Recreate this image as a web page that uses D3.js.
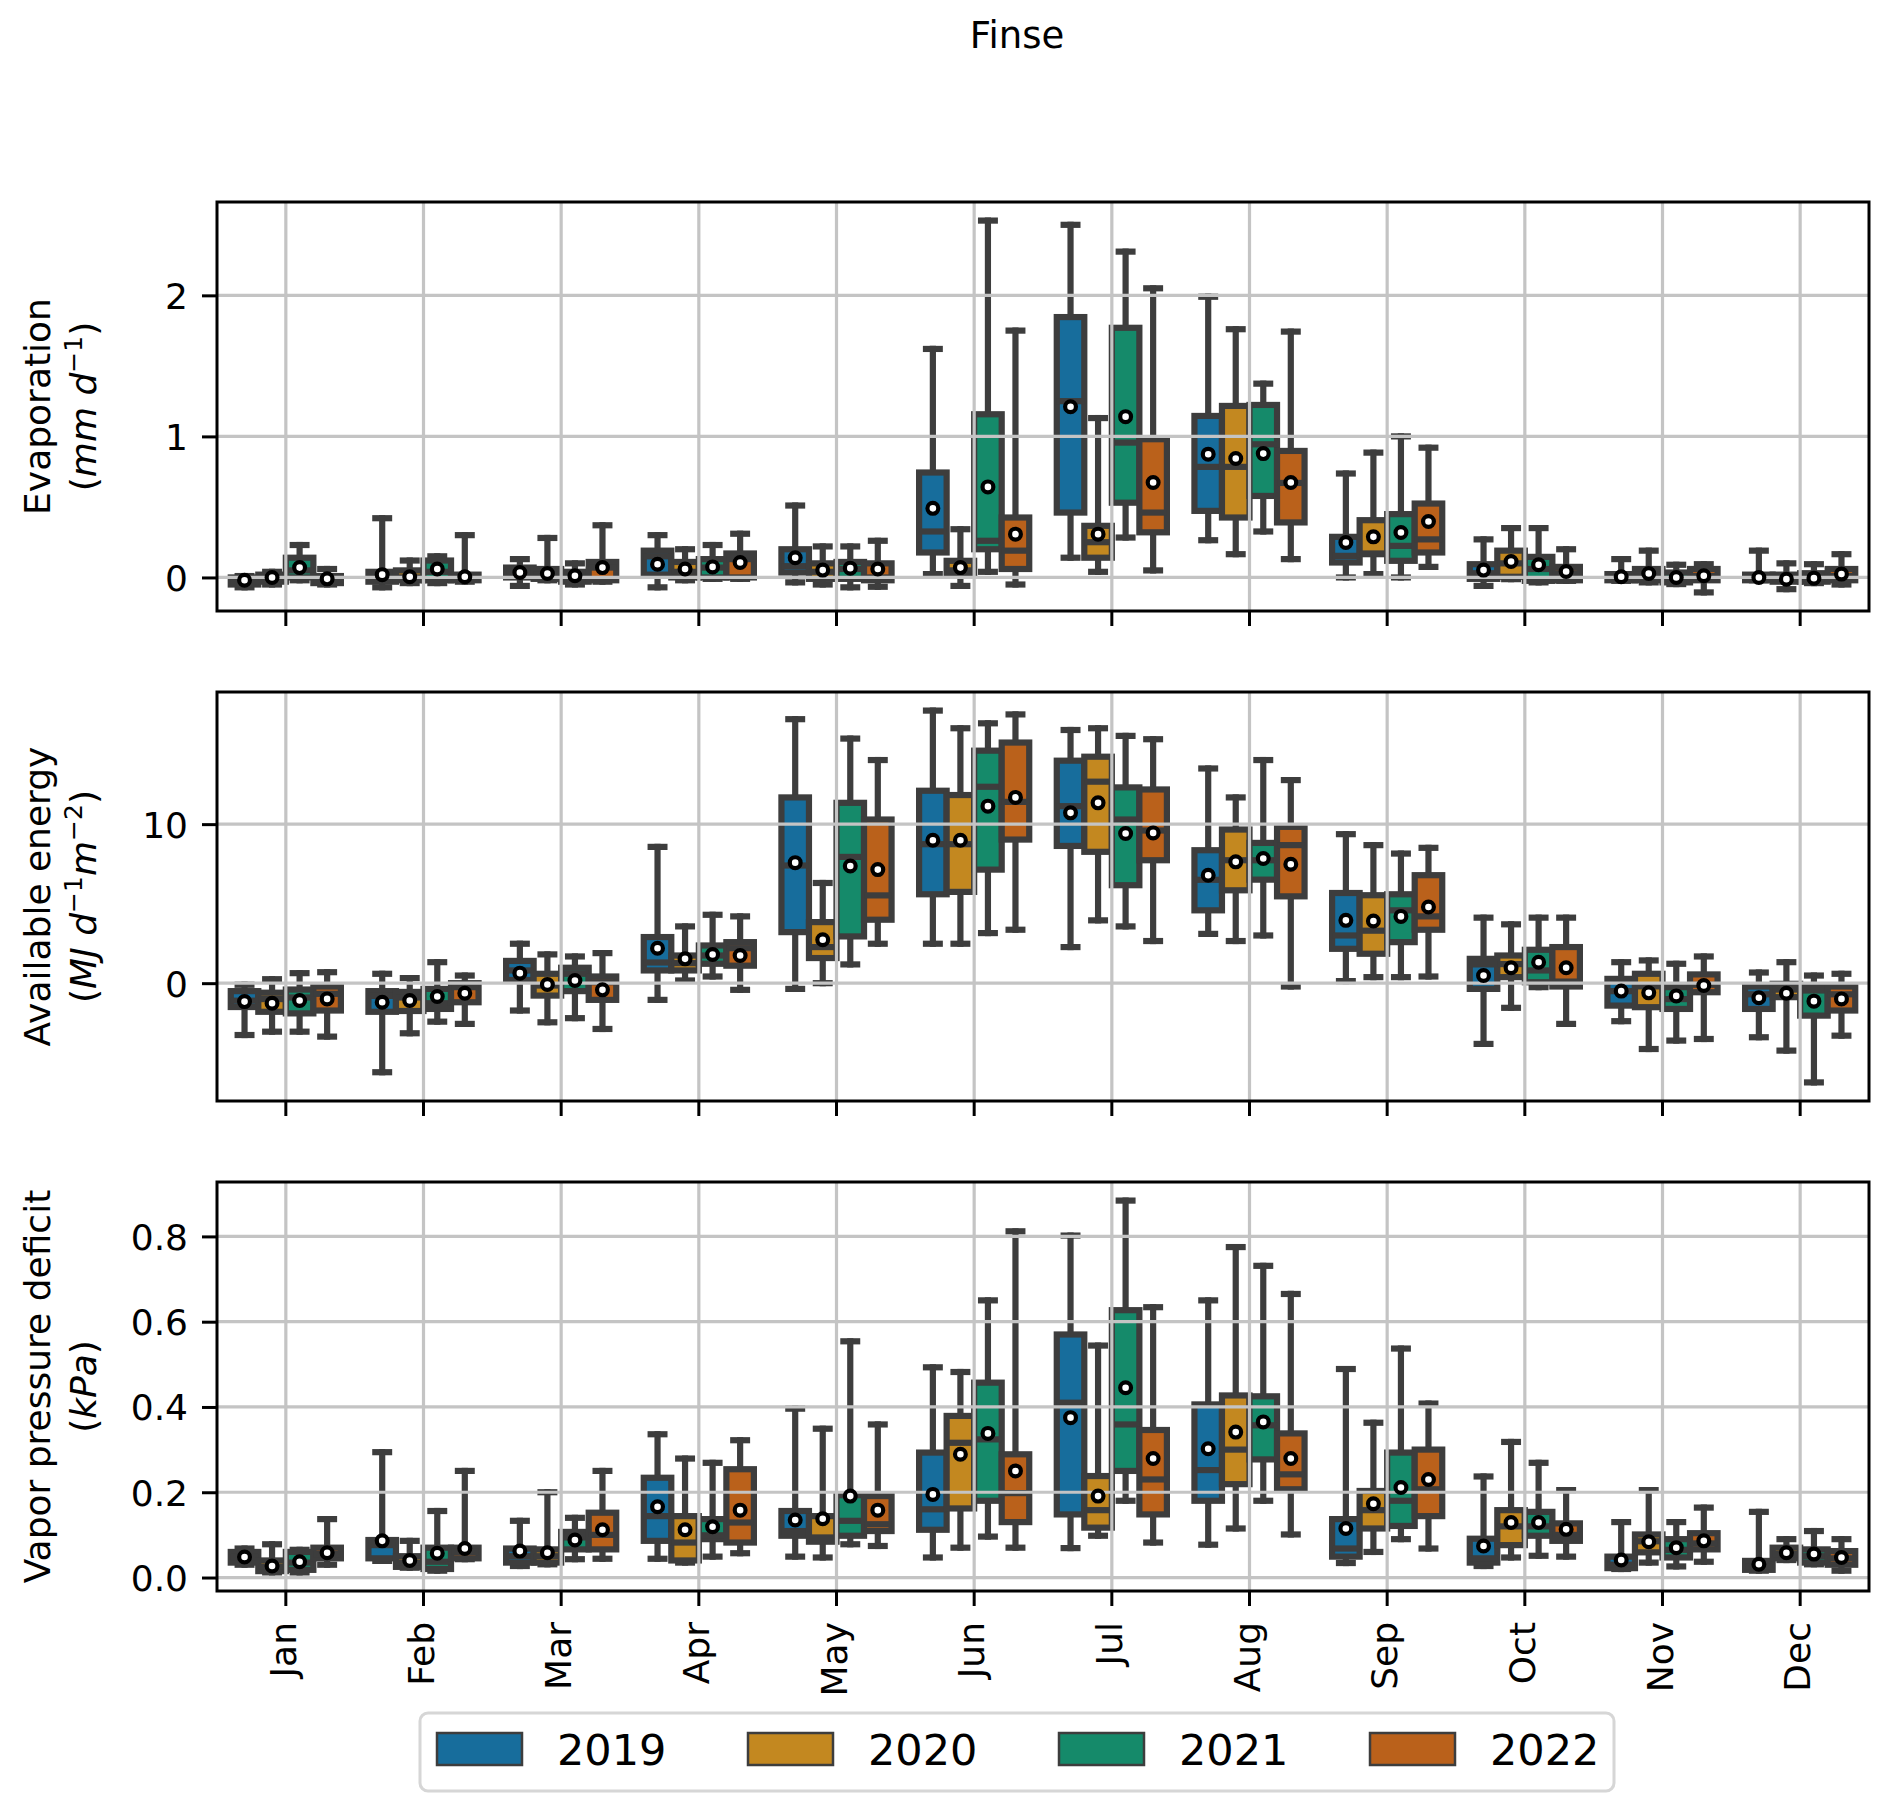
<!DOCTYPE html>
<html>
<head>
<meta charset="utf-8">
<script src="https://cdn.jsdelivr.net/npm/d3@7"></script>
<style>
  body { margin: 0; background: #fff; }
  text { font-family: "DejaVu Sans", sans-serif; }
</style>
</head>
<body>
<script>

var months = ["Jan", "Feb", "Mar", "Apr", "May", "Jun", "Jul", "Aug", "Sep", "Oct", "Nov", "Dec"];
var years = ["2019", "2020", "2021", "2022"];
var colors = ["#176d9c", "#c38820", "#158a6a", "#ba611b"];

// each entry: [lower whisker, q1, median, q3, upper whisker, mean]
var evap2019 = [[-0.07,-0.05,-0.03,0.0,0.01,-0.02],[-0.07,-0.03,0.0,0.04,0.42,0.02],[-0.06,0.0,0.03,0.07,0.13,0.035],[-0.07,0.02,0.15,0.19,0.3,0.094],[-0.035,0.035,0.08,0.2,0.51,0.14],[0.024,0.177,0.326,0.744,1.62,0.49],[0.14,0.46,1.25,1.846,2.5,1.21],[0.264,0.472,0.784,1.145,1.99,0.874],[0.0,0.106,0.153,0.288,0.737,0.248],[-0.06,-0.01,0.03,0.094,0.27,0.052],[-0.024,-0.02,0.0,0.024,0.13,0.005],[-0.02,-0.02,0.0,0.02,0.19,0.0]];
var evap2020 = [[-0.05,-0.03,0.0,0.02,0.04,0.0],[-0.04,-0.02,0.0,0.05,0.12,0.005],[-0.02,-0.01,0.02,0.06,0.28,0.028],[-0.02,0.0,0.04,0.11,0.2,0.06],[-0.05,-0.01,0.04,0.1,0.22,0.052],[-0.06,0.024,0.05,0.118,0.342,0.07],[0.04,0.14,0.25,0.366,1.13,0.307],[0.165,0.425,0.784,1.216,1.76,0.843],[0.024,0.165,0.17,0.406,0.885,0.288],[-0.012,0.005,0.1,0.19,0.35,0.113],[-0.035,-0.02,0.02,0.06,0.19,0.028],[-0.083,-0.03,-0.01,0.02,0.1,-0.012]];
var evap2021 = [[-0.02,0.0,0.05,0.14,0.23,0.07],[-0.04,-0.02,0.04,0.12,0.15,0.06],[-0.05,-0.03,0.0,0.04,0.1,0.012],[-0.01,0.0,0.07,0.13,0.23,0.075],[-0.07,-0.01,0.06,0.11,0.22,0.066],[0.04,0.2,0.26,1.157,2.53,0.642],[0.283,0.53,0.956,1.77,2.31,1.14],[0.326,0.578,0.944,1.223,1.374,0.878],[0.0,0.118,0.224,0.449,1.0,0.319],[-0.035,-0.024,0.06,0.146,0.35,0.09],[-0.047,-0.035,-0.01,0.035,0.09,0.0],[-0.04,-0.03,-0.01,0.03,0.094,-0.005]];
var evap2022 = [[-0.05,-0.04,-0.02,0.01,0.06,-0.01],[-0.03,-0.02,0.0,0.02,0.3,0.005],[-0.03,-0.02,0.07,0.11,0.37,0.07],[-0.01,0.0,0.13,0.17,0.31,0.106],[-0.066,-0.02,0.0,0.1,0.26,0.06],[-0.05,0.06,0.19,0.425,1.75,0.307],[0.05,0.32,0.46,0.98,2.05,0.673],[0.13,0.39,0.67,0.897,1.743,0.673],[0.075,0.177,0.27,0.524,0.92,0.397],[-0.024,-0.02,0.03,0.075,0.2,0.042],[-0.106,-0.02,0.01,0.06,0.094,0.012],[-0.05,-0.02,0.01,0.06,0.165,0.024]];

var energy2019 = [[-3.26,-1.5,-1.1,-0.5,-0.1,-1.16],[-5.6,-1.8,-0.8,-0.5,0.59,-1.2],[-1.72,0.2,0.8,1.4,2.48,0.63],[-1.05,0.8,1.3,2.9,8.57,2.2],[-0.36,3.21,7.4,11.68,16.6,7.58],[2.48,5.59,8.74,12.1,17.14,8.99],[2.27,8.63,11.13,13.99,15.92,10.71],[3.1,4.58,6.5,8.36,13.5,6.79],[0.13,2.16,3.0,5.67,9.37,3.95],[-3.82,-0.36,1.18,1.53,4.12,0.48],[-2.39,-1.41,-0.5,0.27,1.32,-0.5],[-3.4,-1.62,-0.7,-0.21,0.67,-0.92]];
var energy2020 = [[-3.05,-1.8,-1.0,-0.6,0.25,-1.26],[-3.15,-1.75,-0.9,-0.55,0.32,-1.09],[-2.46,-0.78,-0.15,0.59,1.81,-0.08],[0.17,0.8,1.26,1.74,3.57,1.53],[0.0,1.58,2.27,3.84,6.3,2.73],[2.48,5.74,8.74,11.83,16.03,8.99],[3.95,8.26,12.67,14.24,16.03,11.34],[2.65,5.84,7.73,9.66,11.68,7.63],[0.38,1.85,3.3,5.53,8.68,3.91],[-1.55,0.38,1.2,1.74,3.7,0.97],[-4.14,-1.51,-0.2,0.59,1.43,-0.61],[-4.24,-0.88,-0.4,-0.04,1.32,-0.63]];
var energy2021 = [[-3.05,-1.9,-0.9,-0.4,0.63,-1.09],[-2.42,-1.62,-1.26,-0.36,1.32,-0.84],[-2.2,-0.5,0.59,0.97,1.68,0.17],[0.42,1.22,1.74,2.37,4.3,1.8],[1.18,2.94,7.94,11.34,15.38,7.37],[3.15,7.14,12.35,14.62,16.34,11.13],[3.57,6.16,10.29,12.31,15.55,9.41],[3.0,6.51,7.73,8.82,14.03,7.84],[0.38,2.58,4.58,5.59,8.15,4.2],[-0.25,0.06,0.8,2.1,4.12,1.32],[-3.61,-1.62,-1.0,-0.25,1.22,-0.8],[-6.24,-2.04,-0.46,-0.15,0.48,-1.13]];
var energy2022 = [[-3.36,-1.72,-0.67,-0.21,0.69,-0.99],[-2.56,-1.2,-0.25,0.0,0.48,-0.63],[-2.88,-1.05,0.06,0.42,1.89,-0.42],[-0.42,1.1,2.2,2.58,4.2,1.74],[2.48,3.99,5.52,10.29,14.03,7.14],[3.36,9.03,11.4,15.13,16.9,11.68],[2.65,7.73,9.6,12.18,15.34,9.45],[-0.21,5.46,8.68,9.83,12.77,7.48],[0.42,3.36,4.2,6.79,8.51,4.79],[-2.56,-0.21,0.1,2.27,4.12,0.97],[-3.51,-0.57,-0.1,0.55,1.68,-0.15],[-3.3,-1.72,-0.7,-0.21,0.59,-0.99]];

var vpd2019 = [[0.03,0.035,0.048,0.06,0.068,0.048],[0.039,0.045,0.076,0.088,0.294,0.086],[0.027,0.035,0.05,0.068,0.133,0.062],[0.044,0.086,0.144,0.234,0.336,0.166],[0.049,0.098,0.109,0.156,0.396,0.135],[0.047,0.112,0.16,0.293,0.493,0.195],[0.069,0.148,0.41,0.57,0.802,0.375],[0.077,0.18,0.252,0.406,0.65,0.302],[0.034,0.049,0.068,0.137,0.489,0.115],[0.027,0.035,0.045,0.091,0.237,0.074],[0.02,0.022,0.03,0.049,0.13,0.041],[0.016,0.018,0.025,0.039,0.154,0.031]];
var vpd2020 = [[0.012,0.015,0.025,0.04,0.078,0.027],[0.023,0.025,0.035,0.05,0.086,0.04],[0.031,0.035,0.05,0.066,0.2,0.058],[0.035,0.04,0.082,0.144,0.279,0.112],[0.047,0.084,0.094,0.144,0.349,0.138],[0.07,0.162,0.316,0.379,0.482,0.289],[0.098,0.117,0.158,0.238,0.544,0.191],[0.115,0.219,0.3,0.427,0.775,0.341],[0.06,0.115,0.158,0.203,0.363,0.173],[0.047,0.076,0.12,0.158,0.318,0.129],[0.035,0.059,0.085,0.101,0.205,0.084],[0.041,0.045,0.055,0.07,0.09,0.058]];
var vpd2021 = [[0.012,0.018,0.035,0.06,0.065,0.037],[0.016,0.02,0.037,0.07,0.156,0.057],[0.043,0.066,0.094,0.107,0.14,0.088],[0.049,0.09,0.099,0.137,0.269,0.119],[0.078,0.098,0.133,0.193,0.554,0.191],[0.096,0.18,0.324,0.457,0.65,0.338],[0.18,0.25,0.359,0.627,0.884,0.445],[0.18,0.277,0.357,0.425,0.731,0.365],[0.09,0.121,0.18,0.293,0.537,0.211],[0.051,0.098,0.12,0.154,0.269,0.129],[0.026,0.047,0.065,0.09,0.13,0.07],[0.031,0.035,0.05,0.066,0.109,0.055]];
var vpd2022 = [[0.03,0.045,0.055,0.07,0.137,0.058],[0.043,0.045,0.06,0.07,0.25,0.068],[0.044,0.066,0.1,0.152,0.25,0.112],[0.057,0.082,0.129,0.254,0.322,0.158],[0.074,0.109,0.125,0.191,0.359,0.158],[0.07,0.13,0.198,0.289,0.812,0.25],[0.082,0.148,0.23,0.346,0.634,0.279],[0.101,0.207,0.242,0.338,0.665,0.279],[0.068,0.144,0.207,0.3,0.408,0.23],[0.049,0.086,0.1,0.127,0.205,0.113],[0.037,0.066,0.08,0.104,0.164,0.086],[0.016,0.03,0.045,0.062,0.09,0.047]];

var evapTicks = [0, 1, 2];
var energyTicks = [0, 10];
var vpdTicks = [0, 0.2, 0.4, 0.6, 0.8];

var width = 1892, height = 1811;
var left = 217, right = 1869;
var tops = [202, 692, 1182], panelH = 409;
var lineGray = "#3d3d3d";
var fs = 36;

var panels = [
    { series: [evap2019, evap2020, evap2021, evap2022], ticks: evapTicks, fmt: d3.format("d"),
      label: "Evaporation", unit: [["(", ""], ["mm d", "i"], ["\u22121", "s"], [")", ""]] },
    { series: [energy2019, energy2020, energy2021, energy2022], ticks: energyTicks, fmt: d3.format("d"),
      label: "Available energy", unit: [["(", ""], ["MJ d", "i"], ["\u22121", "s"], ["m", "i"], ["\u22122", "s"], [")", ""]] },
    { series: [vpd2019, vpd2020, vpd2021, vpd2022], ticks: vpdTicks, fmt: d3.format(".1f"),
      label: "Vapor pressure deficit", unit: [["(", ""], ["kPa", "i"], [")", ""]] }
];

var svg = d3.select("body").append("svg")
    .attr("width", width)
    .attr("height", height);

svg.append("text")
    .attr("x", 1017).attr("y", 48)
    .attr("text-anchor", "middle")
    .attr("font-size", 37)
    .text("Finse");

var x = d3.scaleBand().domain(months).range([left, right]).padding(0);
var xYear = d3.scaleBand().domain(years).range([x.bandwidth() * 0.1, x.bandwidth() * 0.9]).padding(0);
var bw = xYear.bandwidth();
var capW = bw / 2;

panels.forEach(function (p, pi) {
    var top = tops[pi], bottom = top + panelH;

    // matplotlib style 5% margins around the whisker range
    var lo = d3.min(p.series, s => d3.min(s, d => d[0]));
    var hi = d3.max(p.series, s => d3.max(s, d => d[4]));
    var pad = (hi - lo) * 0.05;
    var y = d3.scaleLinear().domain([lo - pad, hi + pad]).range([bottom, top]);

    var g = svg.append("g");

    // boxes
    p.series.forEach(function (s, yi) {
        s.forEach(function (d, mi) {
            var x0 = x(months[mi]) + xYear(years[yi]);
            var cx = x0 + bw / 2;
            var b = g.append("g")
                .attr("stroke", lineGray)
                .attr("stroke-width", 6.2)
                .attr("stroke-linecap", "square");
            b.append("line").attr("x1", cx).attr("x2", cx).attr("y1", y(d[3])).attr("y2", y(d[4]));
            b.append("line").attr("x1", cx).attr("x2", cx).attr("y1", y(d[1])).attr("y2", y(d[0]));
            b.append("line").attr("x1", cx - capW / 2).attr("x2", cx + capW / 2).attr("y1", y(d[4])).attr("y2", y(d[4]));
            b.append("line").attr("x1", cx - capW / 2).attr("x2", cx + capW / 2).attr("y1", y(d[0])).attr("y2", y(d[0]));
            b.append("rect")
                .attr("x", x0).attr("width", bw)
                .attr("y", y(d[3])).attr("height", Math.max(0.5, y(d[1]) - y(d[3])))
                .attr("fill", colors[yi])
                .attr("stroke-linejoin", "miter");
            b.append("line").attr("x1", x0).attr("x2", x0 + bw).attr("y1", y(d[2])).attr("y2", y(d[2]))
                .attr("stroke-linecap", "butt");
        });
    });

    // grid (drawn above the boxes, as in the original)
    var grid = g.append("g").attr("stroke", "#c4c4c4").attr("stroke-width", 3.2);
    grid.selectAll(".hg").data(p.ticks).enter().append("line")
        .attr("x1", left).attr("x2", right)
        .attr("y1", d => y(d)).attr("y2", d => y(d));
    grid.selectAll(".vg").data(months).enter().append("line")
        .attr("x1", d => x(d) + x.bandwidth() / 2).attr("x2", d => x(d) + x.bandwidth() / 2)
        .attr("y1", top).attr("y2", bottom);

    // means
    p.series.forEach(function (s, yi) {
        g.selectAll(null).data(s).enter().append("circle")
            .attr("cx", (d, mi) => x(months[mi]) + xYear(years[yi]) + bw / 2)
            .attr("cy", d => y(d[5]))
            .attr("r", 5.4)
            .attr("fill", "#fff")
            .attr("stroke", "#000")
            .attr("stroke-width", 4.2);
    });

    // y axis
    var ya = g.append("g")
        .attr("transform", "translate(" + left + ",0)")
        .call(d3.axisLeft(y).tickValues(p.ticks).tickFormat(p.fmt).tickSize(15).tickPadding(14));
    ya.select(".domain").remove();
    ya.selectAll(".tick line").attr("stroke", "#000").attr("stroke-width", 3);
    ya.selectAll(".tick text").attr("font-size", fs).attr("fill", "#000")
        .attr("font-family", "DejaVu Sans").attr("dy", "0.36em");

    // x axis
    var xa = g.append("g")
        .attr("transform", "translate(0," + bottom + ")")
        .call(d3.axisBottom(x).tickSize(15));
    xa.select(".domain").remove();
    xa.selectAll(".tick line").attr("stroke", "#000").attr("stroke-width", 3);
    if (pi < 2) {
        xa.selectAll(".tick text").remove();
    } else {
        xa.selectAll(".tick text")
            .attr("font-size", fs).attr("fill", "#000").attr("font-family", "DejaVu Sans")
            .attr("x", 0).attr("y", 0).attr("dy", "0.28em")
            .attr("text-anchor", "end")
            .attr("transform", "translate(0,31) rotate(-90)");
    }

    // frame
    g.append("rect")
        .attr("x", left).attr("y", top)
        .attr("width", right - left).attr("height", panelH)
        .attr("fill", "none").attr("stroke", "#000").attr("stroke-width", 3);

    // y label, two lines
    var cy = top + panelH / 2;
    svg.append("text")
        .attr("transform", "translate(50," + cy + ") rotate(-90)")
        .attr("text-anchor", "middle")
        .attr("font-size", fs)
        .text(p.label);
    var ul = svg.append("text")
        .attr("transform", "translate(96," + cy + ") rotate(-90)")
        .attr("text-anchor", "middle")
        .attr("font-size", fs);
    var raised = false;
    p.unit.forEach(function (part) {
        var t = ul.append("tspan").text(part[0]);
        if (part[1] === "s") {
            t.attr("font-size", 25).attr("dy", -14);
            raised = true;
        } else {
            if (raised) { t.attr("dy", 14); raised = false; }
            if (part[1] === "i") t.attr("font-style", "italic");
        }
    });
});

// legend
var leg = svg.append("g");
leg.append("rect")
    .attr("x", 420).attr("y", 1713).attr("width", 1194).attr("height", 78)
    .attr("rx", 8).attr("fill", "#fff").attr("stroke", "#d6d6d6").attr("stroke-width", 3);
var item = leg.selectAll(".item").data(years).enter().append("g")
    .attr("transform", (d, i) => "translate(" + (437 + i * 311) + ",0)");
item.append("rect")
    .attr("x", 0).attr("y", 1733).attr("width", 85).attr("height", 32)
    .attr("fill", (d, i) => colors[i])
    .attr("stroke", lineGray).attr("stroke-width", 2.5);
item.append("text")
    .attr("x", 120).attr("y", 1765)
    .attr("font-size", 43)
    .text(d => d);

</script>
</body>
</html>
